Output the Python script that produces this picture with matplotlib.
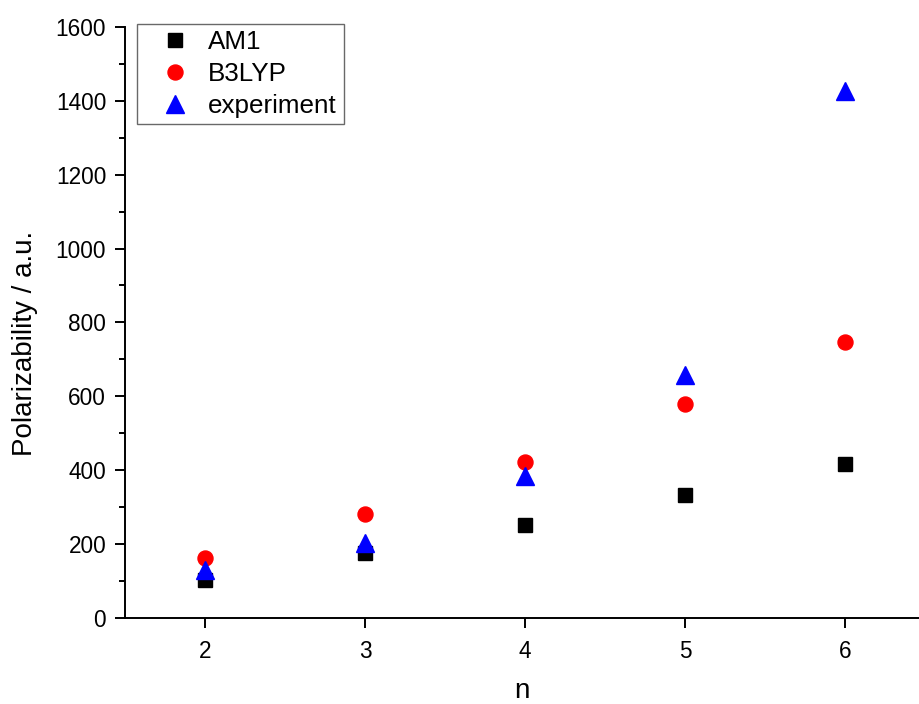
"""Polarizability vs chain length n: AM1, B3LYP and experiment."""

import numpy as np
import matplotlib
matplotlib.use("Agg")
import matplotlib.pyplot as plt
from matplotlib.ticker import MultipleLocator

plt.rcParams["font.family"] = ["Liberation Sans", "DejaVu Sans"]

n_values = [2, 3, 4, 5, 6]
am1 = [104, 176, 251, 333, 418]
b3lyp = [162, 281, 423, 578, 747]
experiment = [130, 202, 384, 659, 1426]

fig = plt.figure(figsize=(9.19, 7.04), dpi=100)
ax = fig.add_axes([0.136, 0.122, 0.864, 0.84])

ax.plot(n_values, am1, linestyle="none", marker="s", markersize=10,
        color="black", label="AM1")
ax.plot(n_values, b3lyp, linestyle="none", marker="o", markersize=10.8,
        color="red", label="B3LYP")
ax.plot(n_values, experiment, linestyle="none", marker="^", markersize=12.5,
        color="blue", label="experiment")

ax.set_xlim(1.5, 6.4625)
ax.set_ylim(0, 1600)
ax.xaxis.set_major_locator(MultipleLocator(1))
ax.yaxis.set_major_locator(MultipleLocator(200))
ax.yaxis.set_minor_locator(MultipleLocator(100))

for side in ("top", "right"):
    ax.spines[side].set_visible(False)
for side in ("left", "bottom"):
    ax.spines[side].set_linewidth(1.4)

ax.tick_params(which="major", direction="out", length=7.5, width=1.4,
               labelsize=16.3)
ax.tick_params(axis="x", which="major", pad=8.5)
ax.tick_params(axis="y", which="major", pad=6)
ax.tick_params(which="minor", direction="out", length=4.5, width=1.4)

ax.set_xlabel("n", fontsize=20)
ax.set_ylabel("Polarizability / a.u.", fontsize=20)
ax.xaxis.set_label_coords(0.5, -0.1015)
ax.yaxis.set_label_coords(-0.11, 0.465)

leg = ax.legend(loc="upper left", bbox_to_anchor=(0.015, 1.005), fontsize=18.7,
                frameon=True, fancybox=False, borderpad=0.25, handletextpad=0.1,
                labelspacing=0.3, borderaxespad=0.0, handlelength=2.4)
leg.get_frame().set_edgecolor("#444444")
leg.get_frame().set_linewidth(1.0)

fig.savefig("out.png", dpi=100)
plt.close(fig)
